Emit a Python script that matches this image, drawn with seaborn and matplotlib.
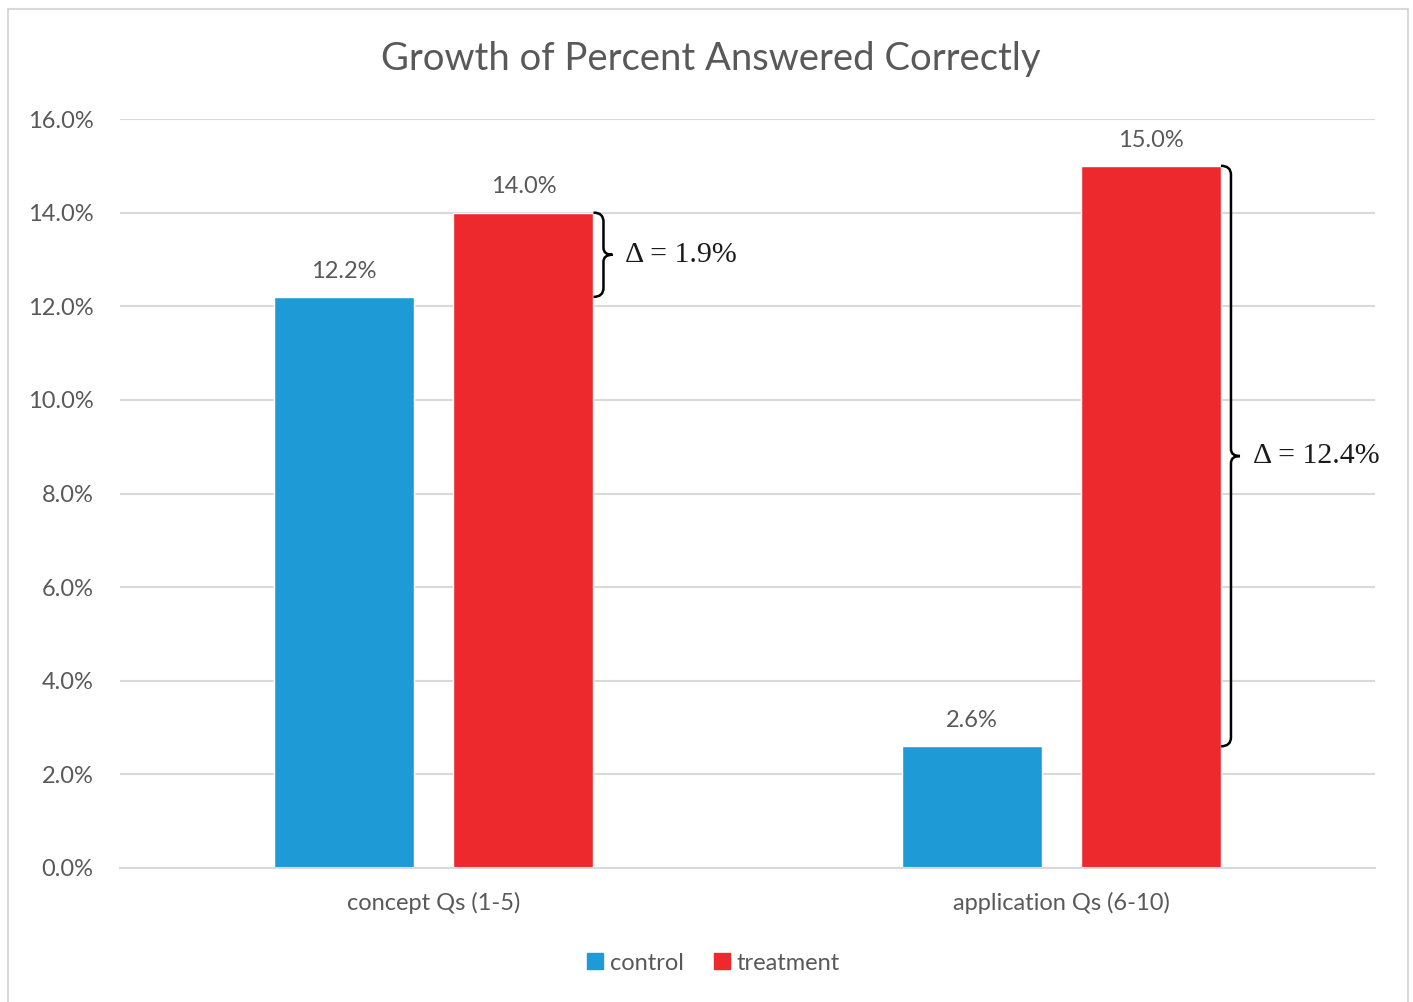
import matplotlib
matplotlib.use("Agg")
import matplotlib.pyplot as plt
import matplotlib.patches as mpatches
from matplotlib.path import Path
from matplotlib.ticker import FuncFormatter
import seaborn as sns
import pandas as pd

# ---- data ----
categories = ["concept Qs (1-5)", "application Qs (6-10)"]
groups = ["control", "treatment"]
control_vals = [12.2, 2.6]
treatment_vals = [14.0, 15.0]
delta_labels = ["\u0394 = 1.9%", "\u0394 = 12.4%"]
title = "Growth of Percent Answered Correctly"

BLUE = "#1E9BD7"
RED = "#ED292E"
GRAY_TXT = "#595959"
GRID = "#D9D9D9"
FS = 17

sns.set_theme(style="white")
plt.rcParams['font.family'] = ['Lato', 'DejaVu Sans']

df = pd.DataFrame({
    "category": categories * 2,
    "group": [groups[0]] * len(categories) + [groups[1]] * len(categories),
    "value": control_vals + treatment_vals,
})

fig = plt.figure(figsize=(14.13, 10.02), dpi=100)
W, H = 1413, 1002
ax = fig.add_axes([120 / W, 1 - 868 / H, (1375 - 120) / W, (868 - 119) / H])

sns.barplot(data=df, x="category", y="value", hue="group", hue_order=groups,
            palette=[BLUE, RED], saturation=1, width=0.572, gap=0.22,
            errorbar=None, ax=ax, legend=False)

ax.set_xlim(-0.5, 1.5)
ax.set_ylim(0, 16)
ax.set_yticks(range(0, 17, 2))
ax.yaxis.set_major_formatter(FuncFormatter(lambda v, p: f"{v:.1f}%"))
ax.set_xlabel("")
ax.set_ylabel("")
ax.yaxis.grid(True, color=GRID, lw=1.5)
ax.set_axisbelow(True)
for s in ["left", "right", "top"]:
    ax.spines[s].set_visible(False)
ax.spines["bottom"].set_color(GRID)
ax.spines["bottom"].set_linewidth(1.5)
ax.tick_params(axis="both", length=0, labelsize=FS, labelcolor=GRAY_TXT)
ax.tick_params(axis="y", pad=19)
ax.tick_params(axis="x", pad=17)

for cont in ax.containers:
    ax.bar_label(cont, fmt="%.1f%%", padding=11, fontsize=FS, color=GRAY_TXT)

fig.text(0.503, 1 - 59 / H, title, ha="center", va="center",
         fontsize=27.5, color=GRAY_TXT)

# ---- braces between control and treatment tops ----
px_per_x = (1375 - 120) / 2.0  # pixels per category unit
px_per_y = (868 - 119) / 16.0  # pixels per percent
treat_bars = ax.containers[1]
for i, bar in enumerate(treat_bars):
    x0 = bar.get_x() + bar.get_width()
    y_top = treatment_vals[i]
    y_bot = control_vals[i]
    ym = (y_top + y_bot) / 2
    wx = 10 / px_per_x   # offset to the spine of the brace
    tx = 19 / px_per_x   # tip offset
    r = 9 / px_per_y
    rm = 7 / px_per_y
    xs = x0 + wx
    verts = [
        (x0, y_top), (xs, y_top), (xs, y_top - r),
        (xs, ym + rm),
        (xs, ym), (x0 + tx, ym),
        (xs, ym), (xs, ym - rm),
        (xs, y_bot + r),
        (xs, y_bot), (x0, y_bot),
    ]
    codes = [Path.MOVETO, Path.CURVE3, Path.CURVE3,
             Path.LINETO,
             Path.CURVE3, Path.CURVE3,
             Path.CURVE3, Path.CURVE3,
             Path.LINETO,
             Path.CURVE3, Path.CURVE3]
    ax.add_patch(mpatches.PathPatch(Path(verts, codes), fill=False,
                                    lw=1.8, color="black", clip_on=False))
    ax.text(x0 + tx + 13 / px_per_x, ym, delta_labels[i], ha="left", va="center",
            fontsize=21.5, family=["Liberation Serif", "DejaVu Serif"],
            color="#1a1a1a", clip_on=False)

# ---- legend ----
handles = [mpatches.Patch(color=BLUE, label=groups[0]),
           mpatches.Patch(color=RED, label=groups[1])]
leg = fig.legend(handles=handles, loc="center", bbox_to_anchor=(0.505, 1 - 963 / H),
                 ncol=2, frameon=False, fontsize=FS, handlelength=0.65,
                 handleheight=0.65, handletextpad=0.3, columnspacing=1.3)
for t in leg.get_texts():
    t.set_color(GRAY_TXT)

# ---- outer border ----
fig.patches.append(mpatches.Rectangle((8 / W, -0.01), (1408 - 8) / W, 1 - 9 / H + 0.01,
                                      transform=fig.transFigure, fill=False,
                                      edgecolor=GRID, lw=1.5))

fig.savefig("out.png", dpi=100, facecolor="white")
